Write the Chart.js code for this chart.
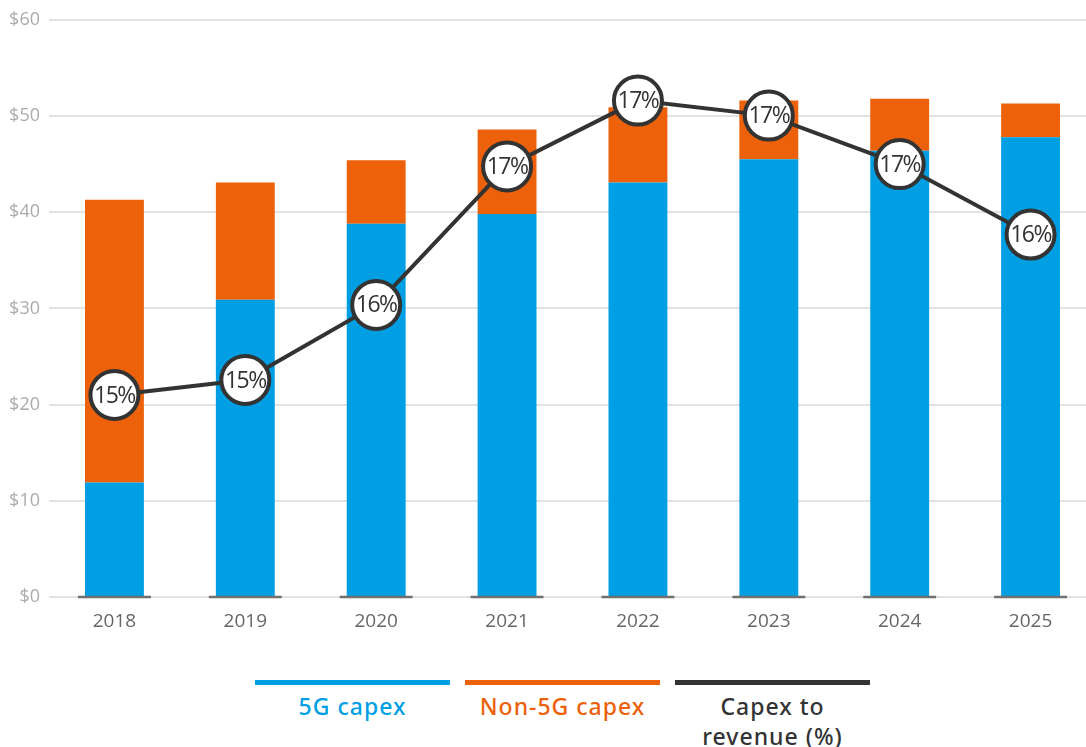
<!DOCTYPE html>
<html>
<head>
<meta charset="utf-8">
<script src="https://cdn.jsdelivr.net/npm/chart.js@4.4.1/dist/chart.umd.min.js"></script>
<style>
  html, body { margin: 0; padding: 0; background: #fff; overflow: hidden; }
  #wrap { position: relative; width: 1096px; height: 650px; }
  .legend { position: absolute; top: 680px; font-family: "Noto Sans", sans-serif; font-weight: 500; font-size: 23px; letter-spacing: 1px; line-height: 30px; text-align: center; }
  .legend .bar { height: 5px; width: 195px; margin-bottom: 6px; }
</style>
</head>
<body>
<div id="wrap"><canvas id="capexChart"></canvas></div>

<div class="legend" style="left:255px; width:195px; color:#009fe3;">
  <div class="bar" style="background:#009fe3;"></div>5G capex
</div>
<div class="legend" style="left:465px; width:195px; color:#ec610a;">
  <div class="bar" style="background:#ec610a;"></div>Non-5G capex
</div>
<div class="legend" style="left:675px; width:195px; color:#333;">
  <div class="bar" style="background:#333;"></div>Capex to<br>revenue (%)
</div>

<script>
// Dữ liệu biểu đồ (tỷ USD)
const years = ['2018', '2019', '2020', '2021', '2022', '2023', '2024', '2025'];
const capex5G = [11.9, 30.9, 38.8, 39.8, 43.1, 45.5, 46.4, 47.8];
const capexNon5G = [29.4, 12.2, 6.6, 8.8, 7.8, 6.1, 5.4, 3.5];
const capexToRevenue = [14.75, 14.88, 15.53, 16.73, 17.3, 17.17, 16.75, 16.14];
const yTicks = [0, 10, 20, 30, 40, 50, 60];

const BLUE = '#009fe3';
const ORANGE = '#ec610a';
const DARK = '#333333';

// Vạch đáy ngắn dưới mỗi cột
const baselinePlugin = {
    id: 'baseline',
    afterDatasetsDraw(chart) {
        const ctx = chart.ctx;
        const y0 = chart.scales.y.getPixelForValue(0);
        const meta = chart.getDatasetMeta(0);
        ctx.save();
        ctx.strokeStyle = '#707070';
        ctx.lineWidth = 2.5;
        meta.data.forEach(bar => {
            ctx.beginPath();
            ctx.moveTo(bar.x - bar.width / 2 - 7, y0);
            ctx.lineTo(bar.x + bar.width / 2 + 7, y0);
            ctx.stroke();
        });
        ctx.restore();
    }
};

// Nhãn phần trăm trong các vòng tròn
const pointLabelPlugin = {
    id: 'pointLabels',
    afterDatasetsDraw(chart) {
        const ctx = chart.ctx;
        const meta = chart.getDatasetMeta(2);
        ctx.save();
        ctx.font = '23px "Open Sans"';
        ctx.letterSpacing = '-1.5px';
        ctx.fillStyle = DARK;
        ctx.textAlign = 'center';
        ctx.textBaseline = 'middle';
        meta.data.forEach((pt, i) => {
            ctx.fillText(Math.round(capexToRevenue[i]) + '%', pt.x, pt.y + 1);
        });
        ctx.restore();
    }
};

const ctx = document.getElementById('capexChart').getContext('2d');
const capexChart = new Chart(ctx, {
    data: {
        labels: years,
        datasets: [
            {
                type: 'bar',
                label: '5G capex',
                data: capex5G,
                backgroundColor: BLUE,
                stack: 'capex',
                order: 1,
                categoryPercentage: 0.45,
                barPercentage: 1
            },
            {
                type: 'bar',
                label: 'Non-5G capex',
                data: capexNon5G,
                backgroundColor: ORANGE,
                stack: 'capex',
                order: 1,
                categoryPercentage: 0.45,
                barPercentage: 1
            },
            {
                type: 'line',
                label: 'Capex to revenue (%)',
                data: capexToRevenue,
                yAxisID: 'y1',
                borderColor: DARK,
                borderWidth: 4,
                pointRadius: 24,
                pointBorderWidth: 4,
                pointBackgroundColor: '#fff',
                pointBorderColor: DARK,
                tension: 0,
                clip: false,
                order: 0
            }
        ]
    },
    options: {
        responsive: true,
        maintainAspectRatio: false,
        animation: false,
        layout: { autoPadding: false, padding: { top: 18, right: 0, bottom: 0, left: 0 } },
        plugins: {
            legend: { display: false },
            tooltip: { enabled: false }
        },
        scales: {
            x: {
                stacked: true,
                grid: { display: false, drawTicks: false },
                border: { display: false },
                ticks: {
                    color: '#666',
                    font: { family: 'Open Sans', size: 19 },
                    padding: 13
                },
                afterFit(scale) { scale.height = 53; }
            },
            y: {
                stacked: true,
                min: 0,
                max: 60,
                afterBuildTicks(scale) { scale.ticks = yTicks.map(v => ({ value: v })); },
                grid: { color: '#e2e2e2', lineWidth: 2, drawTicks: false },
                border: { display: false },
                ticks: {
                    color: '#ababab',
                    font: { family: 'Open Sans', size: 18 },
                    padding: 9,
                    callback: v => '$' + v
                },
                afterFit(scale) { scale.width = 49; }
            },
            y1: {
                display: false,
                min: 13,
                max: 18
            }
        }
    },
    plugins: [baselinePlugin, pointLabelPlugin]
});
</script>
</body>
</html>
